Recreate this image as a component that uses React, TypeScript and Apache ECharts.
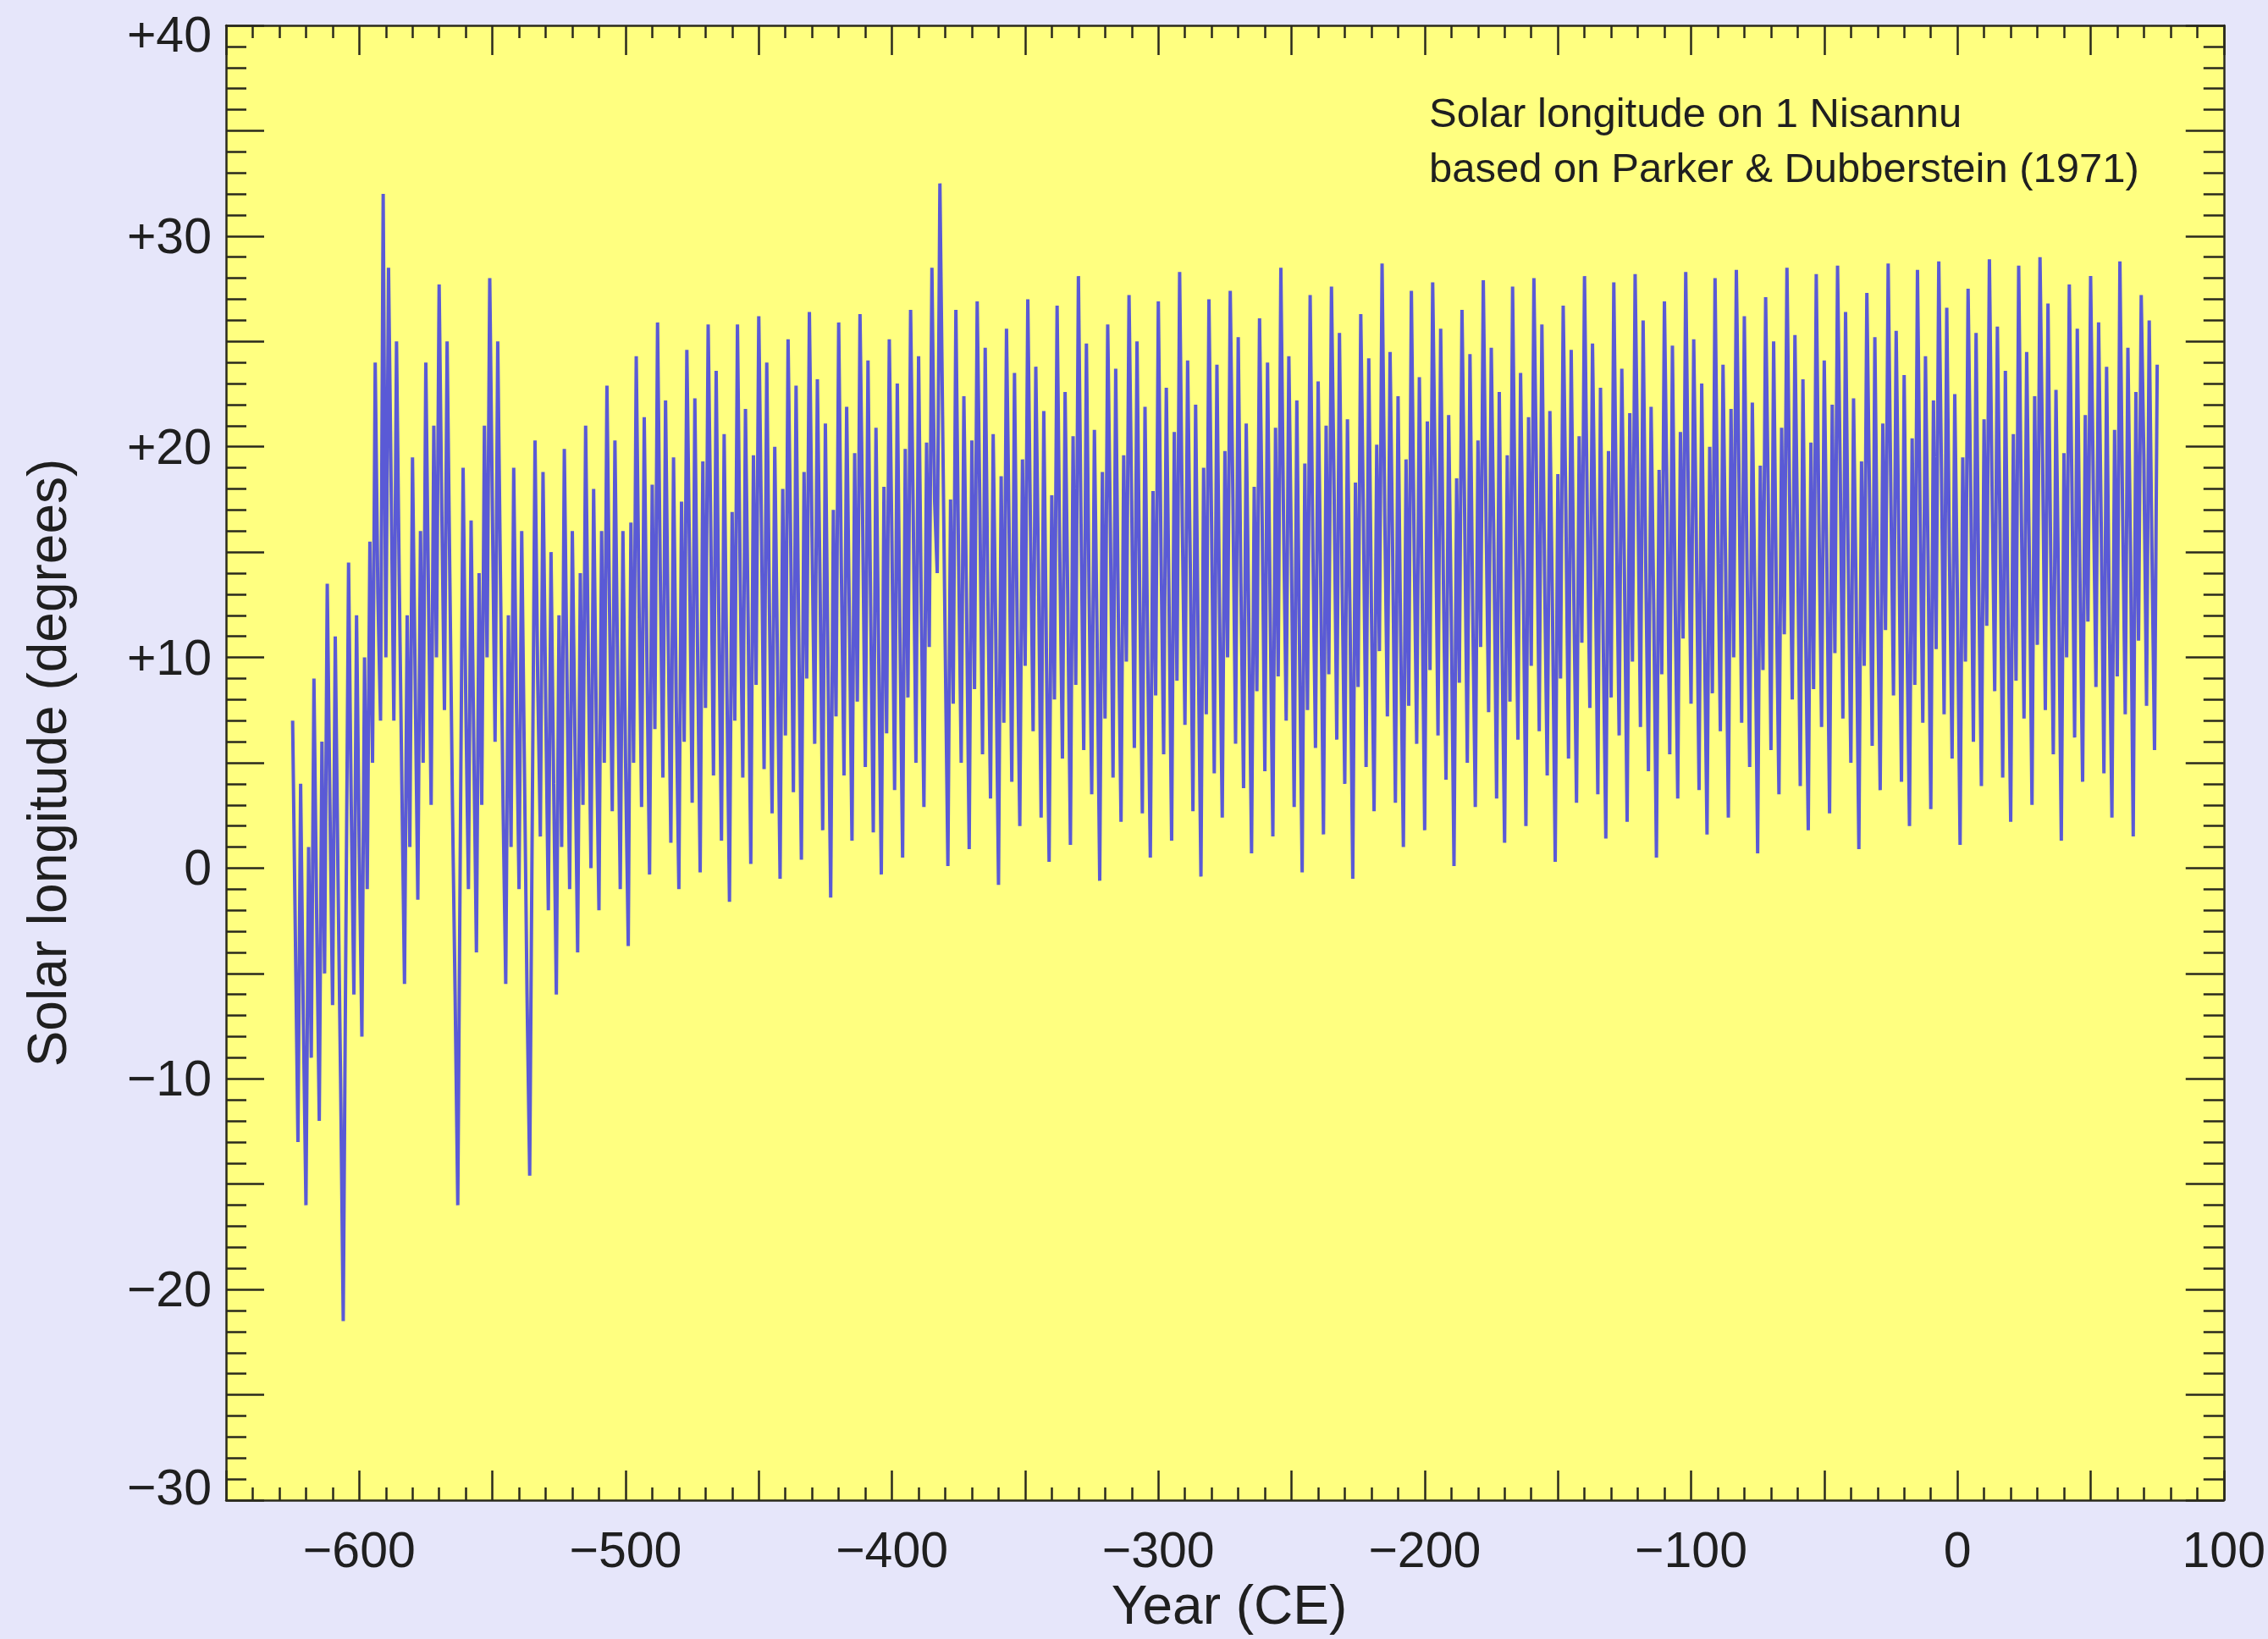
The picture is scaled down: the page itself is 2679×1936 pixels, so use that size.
import React, { useEffect, useRef } from "react";
import * as echarts from "echarts";

// Solar longitude on 1 Nisannu, one value per Babylonian year
const FIRST_YEAR = -625;

// -625 .. -500 (irregular intercalation era)
const valuesEarly: number[] = [
  7, -3, -13, 4, -7, -16, 1, -9, 9, -2,
  -12, 6, -5, 13.5, 3, -6.5, 11, 0, -10, -21.5,
  -3, 14.5, 3, -6, 12, 1, -8, 10, -1, 15.5,
  5, 24, 13, 7, 32, 10, 28.5, 18, 7, 25,
  14, 4, -5.5, 12, 1, 19.5, 9, -1.5, 16, 5,
  24, 13, 3, 21, 10, 27.7, 17, 7.5, 25, 14,
  3, -6, -16, 2, 19, 8, -1, 16.5, 6, -4,
  14, 3, 21, 10, 28, 17, 6, 25, 14, 3,
  -5.5, 12, 1, 19, 8, -1, 16, 5, -6, -14.6,
  3, 20.3, 9, 1.5, 18.8, 8, -2, 15, 4, -6,
  12, 1, 19.9, 9, -1, 16, 6, -4, 14, 3,
  21, 10, 0, 18, 7, -2, 16, 5, 22.9, 12,
  2.7, 20.3, 9.5, -1, 16, 5,
];

// -499 .. -380
const valuesMiddle: number[] = [
  -3.7, 16.4, 5.0, 24.3, 13.0, 2.9, 21.4, 10.0, -0.3, 18.2, 6.6, 25.9, 14.2, 4.3, 22.2, 11.1, 1.2, 19.5, 8.0,
  -1.0, 17.4, 6.0, 24.6, 14.8, 3.1, 22.3, 10.7, -0.2, 19.3, 7.6, 25.8, 16.0, 4.4, 23.6, 12.0, 1.3, 20.6, 9.0,
  -1.6, 16.9, 7.0, 25.8, 14.1, 4.3, 21.8, 11.9, 0.2, 19.6, 8.7, 26.2, 16.3, 4.7, 24.0, 12.3, 2.6, 20.0, 10.1,
  -0.5, 18.0, 6.3, 25.1, 15.3, 3.6, 22.9, 11.2, 0.4, 18.8, 9.0, 26.4, 15.7, 5.9, 23.2, 13.5, 1.8, 21.1, 9.5,
  -1.4, 17.0, 7.2, 25.9, 14.2, 4.4, 21.9, 12.0, 1.3, 19.7, 7.9, 26.3, 16.5, 4.8, 24.1, 12.4, 1.7, 20.9, 10.3,
  -0.3, 18.1, 6.4, 25.1, 15.4, 3.7, 23.0, 11.2, 0.5, 19.9, 8.1, 26.5, 16.7, 5.0, 24.3, 12.6, 2.9, 20.2, 10.5,
  28.5, 17.5, 14.0, 32.5, 21.5, 10.5,
];

// -379 .. 75 (standard 19-year cycle)
const valuesLate: number[] = [
  0.1, 17.5, 7.8, 26.5, 14.8, 5.0, 22.4, 12.6, 0.9, 20.3, 8.5, 26.9, 17.1, 5.4, 24.7, 13.0, 3.3, 20.6, 10.9,
  -0.8, 18.6, 6.9, 25.6, 15.9, 4.1, 23.5, 11.7, 2.0, 19.4, 9.6, 27.0, 16.2, 6.5, 23.8, 14.1, 2.4, 21.7, 10.0,
  0.3, 17.7, 8.0, 26.7, 15.0, 5.2, 22.6, 12.8, 1.1, 20.5, 8.7, 28.1, 16.3, 5.6, 24.9, 13.2, 3.5, 20.8, 11.1,
  -0.6, 18.8, 7.1, 25.8, 16.1, 4.3, 23.7, 11.9, 2.2, 19.6, 9.8, 27.2, 17.4, 5.7, 25.0, 13.3, 2.6, 21.9, 10.2,
  0.5, 17.9, 8.2, 26.9, 15.2, 5.4, 22.8, 13.0, 1.3, 20.7, 8.9, 28.3, 16.5, 6.8, 24.1, 14.4, 2.7, 22.0, 10.3,
  -0.4, 19.0, 7.3, 27.0, 16.3, 4.5, 23.9, 12.1, 2.4, 19.8, 10.0, 27.4, 17.6, 5.9, 25.2, 13.5, 3.8, 21.1, 11.4,
  0.7, 18.1, 8.4, 26.1, 16.4, 4.6, 24.0, 12.2, 1.5, 20.9, 9.1, 28.5, 16.7, 7.0, 24.3, 14.6, 2.9, 22.2, 10.5,
  -0.2, 19.2, 7.5, 27.2, 15.5, 5.7, 23.1, 13.3, 1.6, 21.0, 9.2, 27.6, 17.8, 6.1, 25.4, 13.7, 4.0, 21.3, 11.6,
  -0.5, 18.3, 8.6, 26.3, 16.6, 4.8, 24.2, 12.4, 2.7, 20.1, 10.3, 28.7, 16.9, 7.2, 24.5, 14.8, 3.1, 22.4, 10.7,
  1.0, 19.4, 7.7, 27.4, 15.7, 5.9, 23.3, 13.5, 1.8, 21.2, 9.4, 27.8, 18.0, 6.3, 25.6, 13.9, 4.2, 21.5, 11.8,
  0.1, 18.5, 8.8, 26.5, 16.8, 5.0, 24.4, 12.6, 2.9, 20.3, 10.5, 27.9, 17.1, 7.4, 24.7, 15.0, 3.3, 22.6, 10.9,
  1.2, 19.6, 7.9, 27.6, 15.9, 6.1, 23.5, 13.7, 2.0, 21.4, 9.6, 28.0, 18.2, 6.5, 25.8, 14.1, 4.4, 21.7, 12.0,
  0.3, 18.7, 9.0, 26.7, 17.0, 5.2, 24.6, 12.8, 3.1, 20.5, 10.7, 28.1, 17.3, 7.6, 24.9, 15.2, 3.5, 22.8, 11.1,
  1.4, 19.8, 8.1, 27.8, 16.1, 6.3, 23.7, 13.9, 2.2, 21.6, 9.8, 28.2, 18.4, 6.7, 26.0, 14.3, 4.6, 21.9, 12.2,
  0.5, 18.9, 9.2, 26.9, 17.2, 5.4, 24.8, 13.0, 3.3, 20.7, 10.9, 28.3, 17.5, 7.8, 25.1, 15.4, 3.7, 23.0, 11.3,
  1.6, 20.0, 8.3, 28.0, 16.3, 6.5, 23.9, 14.1, 2.4, 21.8, 10.0, 28.4, 18.6, 6.9, 26.2, 14.5, 4.8, 22.1, 12.4,
  0.7, 19.1, 9.4, 27.1, 17.4, 5.6, 25.0, 13.2, 3.5, 20.9, 11.1, 28.5, 17.7, 8.0, 25.3, 15.6, 3.9, 23.2, 11.5,
  1.8, 20.2, 8.5, 28.2, 16.5, 6.7, 24.1, 14.3, 2.6, 22.0, 10.2, 28.6, 18.8, 7.1, 26.4, 14.7, 5.0, 22.3, 12.6,
  0.9, 19.3, 9.6, 27.3, 17.6, 5.8, 25.2, 13.4, 3.7, 21.1, 11.3, 28.7, 17.9, 8.2, 25.5, 15.8, 4.1, 23.4, 11.7,
  2.0, 20.4, 8.7, 28.4, 16.7, 6.9, 24.3, 14.5, 2.8, 22.2, 10.4, 28.8, 19.0, 7.3, 26.6, 14.9, 5.2, 22.5, 12.8,
  1.1, 19.5, 9.8, 27.5, 17.8, 6.0, 25.4, 13.6, 3.9, 21.3, 11.5, 28.9, 18.1, 8.4, 25.7, 16.0, 4.3, 23.6, 11.9,
  2.2, 20.6, 8.9, 28.6, 16.9, 7.1, 24.5, 14.7, 3.0, 22.4, 10.6, 29.0, 19.2, 7.5, 26.8, 15.1, 5.4, 22.7, 13.0,
  1.3, 19.7, 10.0, 27.7, 18.0, 6.2, 25.6, 13.8, 4.1, 21.5, 11.7, 28.1, 18.3, 8.6, 25.9, 16.2, 4.5, 23.8, 12.1,
  2.4, 20.8, 9.1, 28.8, 17.1, 7.3, 24.7, 14.9, 1.5, 22.6, 10.8, 27.2, 19.4, 7.7, 26.0, 15.3, 5.6, 23.9,
];

const X_TICK_VALUES = [-600, -500, -400, -300, -200, -100, 0, 100];
const X_TICK_LABELS = ["\u2212600", "\u2212500", "\u2212400", "\u2212300", "\u2212200", "\u2212100", "0", "100"];
const Y_TICK_VALUES = [40, 30, 20, 10, 0, -10, -20, -30];
const Y_TICK_LABELS = ["+40", "+30", "+20", "+10", "0", "\u221210", "\u221220", "\u221230"];

const X_TITLE = "Year (CE)";
const Y_TITLE = "Solar longitude (degrees)";
const NOTE_LINE_1 = "Solar longitude on 1 Nisannu";
const NOTE_LINE_2 = "based on Parker & Dubberstein (1971)";

const W = 2679;
const H = 1936;
const FONT = "'Liberation Sans', Arial, Helvetica, sans-serif";
const INK = "#1f1f1f";
const AXIS_INK = "#2a2a1c";
const TICK_FONT = 59;

export default function App() {
  const ref = useRef<HTMLDivElement>(null);

  useEffect(() => {
    if (!ref.current) return;
    const chart = echarts.init(ref.current, undefined, { renderer: "svg" });

    const values = [...valuesEarly, ...valuesMiddle, ...valuesLate];
    const data = values.map((v, i) => [FIRST_YEAR + i, v]);

    const fmtX = (v: number) => {
      const i = X_TICK_VALUES.indexOf(v);
      return i >= 0 ? X_TICK_LABELS[i] : "";
    };
    const yMax = Math.max(...Y_TICK_VALUES);
    const yMin = Math.min(...Y_TICK_VALUES);
    const fmtY = (v: number) => {
      const i = Y_TICK_VALUES.indexOf(v);
      if (i < 0) return "";
      if (v === yMax) return "{top|" + Y_TICK_LABELS[i] + "}";
      if (v === yMin) return "{bot|" + Y_TICK_LABELS[i] + "}";
      return Y_TICK_LABELS[i];
    };
    const richBase = { fontSize: TICK_FONT, fontFamily: FONT, color: INK };

    const lineStyle = { color: AXIS_INK, width: 2.5 };
    const xBase = (position: "bottom" | "top", showLabel: boolean) => ({
      type: "value" as const,
      position,
      min: -650,
      max: 100,
      interval: 50,
      axisLine: { show: true, onZero: false, lineStyle },
      axisTick: { show: true, inside: true, length: 35, lineStyle },
      minorTick: { show: true, splitNumber: 5, length: 15, lineStyle },
      splitLine: { show: false },
      axisLabel: {
        show: showLabel,
        formatter: fmtX,
        margin: 29,
        fontSize: TICK_FONT,
        fontFamily: FONT,
        color: INK,
      },
    });
    const yBase = (position: "left" | "right", showLabel: boolean) => ({
      type: "value" as const,
      position,
      min: -30,
      max: 40,
      interval: 5,
      axisLine: { show: true, onZero: false, lineStyle },
      axisTick: { show: true, inside: true, length: 45, lineStyle },
      minorTick: { show: true, splitNumber: 5, length: 24, lineStyle },
      splitLine: { show: false },
      axisLabel: {
        show: showLabel,
        formatter: fmtY,
        margin: 17,
        fontSize: TICK_FONT,
        fontFamily: FONT,
        color: INK,
        rich: {
          top: { ...richBase, padding: [22, 0, 0, 0] },
          bot: { ...richBase, padding: [0, 0, 30, 0] },
        },
      },
    });

    chart.setOption({
      animation: false,
      backgroundColor: "#e6e6fa",
      grid: {
        left: 267,
        right: 42,
        top: 30,
        bottom: 164,
        show: true,
        backgroundColor: "#ffff80",
        borderWidth: 0,
      },
      xAxis: [xBase("bottom", true), xBase("top", false)],
      yAxis: [yBase("left", true), yBase("right", false)],
      series: [
        {
          type: "line",
          xAxisIndex: 0,
          yAxisIndex: 0,
          data,
          showSymbol: false,
          lineStyle: { color: "#5a5ad6", width: 4 },
          z: 1,
        },
      ],
      graphic: [
        {
          type: "text",
          x: 1452,
          y: 1896,
          style: {
            text: X_TITLE,
            fontSize: 64,
            fontFamily: FONT,
            fill: INK,
            align: "center",
            verticalAlign: "middle",
          },
        },
        {
          type: "text",
          x: 56,
          y: 901,
          rotation: Math.PI / 2,
          style: {
            text: Y_TITLE,
            fontSize: 64,
            fontFamily: FONT,
            fill: INK,
            align: "center",
            verticalAlign: "middle",
          },
        },
        {
          type: "text",
          x: 1688,
          y: 133,
          style: {
            text: NOTE_LINE_1,
            fontSize: 49,
            fontFamily: FONT,
            fill: INK,
            align: "left",
            verticalAlign: "middle",
          },
        },
        {
          type: "text",
          x: 1688,
          y: 198,
          style: {
            text: NOTE_LINE_2,
            fontSize: 49,
            fontFamily: FONT,
            fill: INK,
            align: "left",
            verticalAlign: "middle",
          },
        },
      ],
    });

    return () => chart.dispose();
  }, []);

  return (
    <div
      ref={ref}
      style={{ position: "absolute", left: 0, top: 0, width: W, height: H }}
    />
  );
}
